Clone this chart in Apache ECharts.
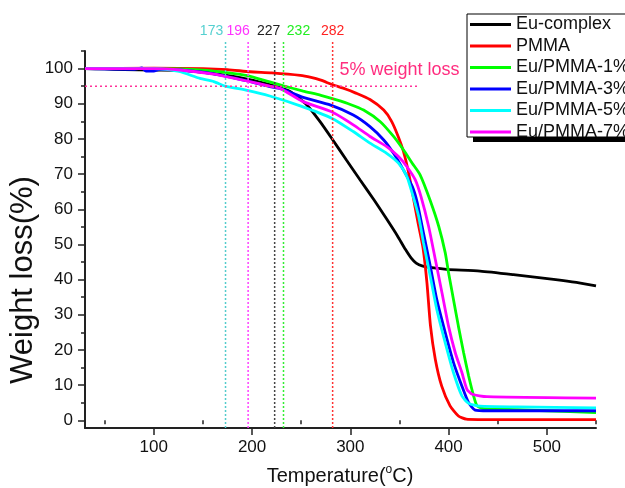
<!DOCTYPE html>
<html>
<head>
<meta charset="utf-8">
<script src="https://cdn.jsdelivr.net/npm/echarts@6/dist/echarts.min.js"></script>
<style>html,body{margin:0;padding:0;background:#fff}#c{width:625px;height:488px}</style>
</head>
<body>
<div id="c"></div>
<script>
// ---------- data ----------
const seriesNames = ['Eu-complex', 'PMMA', 'Eu/PMMA-1%', 'Eu/PMMA-3%', 'Eu/PMMA-5%', 'Eu/PMMA-7%'];
const euComplex = [[30,100],[50,99.9],[70,99.7],[100,99.6],[130,99.5],[160,98.6],[195,97],[223,95],[239,93.4],[256,89.6],[269,85],[281,80.2],[296,74],[310,68.3],[324,62.7],[337,57.2],[348,52.4],[356,48.6],[362,46.1],[367,44.7],[373,43.9],[385,43.3],[398,42.9],[432,42.4],[466,41.4],[509,40],[530,39.2],[550,38.2]];
const pmma = [[30,100],[100,100.1],[150,100],[175,99.7],[198,99.1],[220,98.8],[249,98.1],[260,97.5],[270,96.7],[282,95.4],[295,94.2],[305,93.1],[320,91.2],[334,88.2],[342,85],[349,80.5],[354,76.5],[359,70.8],[364,63.5],[369,56],[374,49],[378,39],[381.5,27],[386.5,17.3],[393,9.7],[401.5,4.1],[410,1.2],[418,0.3],[430,0.2],[550,0.2]];
const pmma1 = [[30,100],[100,100],[127,99.9],[161,99.3],[195,98],[218,96.2],[232,95.1],[252,93.6],[270,92.4],[286,91.1],[300,89.8],[313.5,88.2],[330.5,84.9],[344,80.7],[354,76.9],[363,73.1],[371,69.8],[381,62.7],[390,55.1],[396.6,47.6],[400,41.9],[405,34.3],[410,26.7],[415.3,19.2],[420.4,12.6],[425.5,6.9],[429,4.1],[436,3.3],[470,3],[500,2.7],[550,2.2]];
const pmma3 = [[30,100],[80,99.8],[88,100.2],[92,99.3],[100,99.3],[106,99.8],[127,99.6],[161,98.5],[195,96.5],[218,94.9],[229,94.3],[252,91.8],[280,89.6],[303,86.8],[320,83.5],[334,79.7],[344,75.9],[354,71.2],[363,66.5],[368,62],[374.5,53.2],[381.4,43.8],[388,34.3],[396.6,24.9],[405,16.4],[413.6,9.7],[420.4,5],[427,2.9],[440,2.7],[550,2.7]];
const pmma5 = [[30,100],[100,100],[112,99.8],[127,99.1],[147,97.2],[161,96.3],[173,95],[195,93.8],[218,92.2],[249,89.4],[281,85.9],[303,82.1],[320,78.8],[337,75.9],[349,73.1],[357.6,69.3],[363,64.5],[369.5,58],[374.5,50.4],[381.4,40.9],[388,31.5],[396.6,22],[405,13.5],[413.6,6.9],[420.4,4.8],[432,4],[470,3.8],[550,3.5]];
const pmma7 = [[30,100],[100,100],[127,99.6],[161,98.4],[196,96.4],[218,95],[229,94.3],[252,90.6],[281,87.7],[303,84],[320,80.7],[337,77.8],[349,75],[357.6,72.1],[366,68.4],[372,63.5],[379.7,55.1],[386.5,45.7],[393.3,36.2],[400,26.7],[406.8,19.2],[413.6,13.5],[418.7,8.8],[424,7.4],[439,6.7],[550,6.3]];

const xMajorTicks = [100, 200, 300, 400, 500];
const xMinorTicks = [50, 150, 250, 350, 450, 550];
const yMajorTicks = [0, 10, 20, 30, 40, 50, 60, 70, 80, 90, 100];
const yMinorTicks = [5, 15, 25, 35, 45, 55, 65, 75, 85, 95, 105];

const markTemps = [173, 196, 223, 232, 282];
const markLabels = ['173', '196', '227', '232', '282'];
const lossLevel = 95;
const lossLineEnd = 369;

// ---------- style ----------
const FONT = 'Liberation Sans, Arial, Helvetica, sans-serif';
const colors = ['#000000', '#ff0000', '#00ff00', '#0000ff', '#00ffff', '#ff00ff'];
const markColors = ['#55cccc', '#ff40ff', '#444444', '#33ee33', '#ff3333'];
const markLabelColors = ['#55d0d0', '#ff33ff', '#222222', '#22ee22', '#ff2222'];
const markLabelDx = [-14, -10, -6, 15, 0];
const pink = '#ff3399';

const chart = echarts.init(document.getElementById('c'), null, {renderer: 'canvas'});
const dataSets = [euComplex, pmma, pmma1, pmma3, pmma5, pmma7];

const axisCommon = {type: 'value', splitLine: {show: false}};

chart.setOption({
  animation: false,
  backgroundColor: '#fff',
  grid: {left: 85, right: 29, top: 51, bottom: 60, containLabel: false},
  xAxis: [
    Object.assign({}, axisCommon, {
      min: 30, max: 550, position: 'bottom',
      axisLine: {show: true, onZero: false, lineStyle: {color: '#222', width: 2}},
      axisTick: {show: true, length: 7, lineStyle: {color: '#222', width: 1.5}, customValues: xMajorTicks},
      axisLabel: {show: true, customValues: xMajorTicks, fontSize: 17, color: '#111', fontFamily: FONT, margin: 11}
    }),
    Object.assign({}, axisCommon, {
      min: 30, max: 550, position: 'bottom', gridIndex: 0,
      axisLine: {show: false},
      axisTick: {show: true, length: 4, lineStyle: {color: '#222', width: 1.5}, customValues: xMinorTicks},
      axisLabel: {show: false}
    })
  ],
  yAxis: [
    Object.assign({}, axisCommon, {
      min: -2.2, max: 105, position: 'left',
      axisLine: {show: true, onZero: false, lineStyle: {color: '#222', width: 2}},
      axisTick: {show: true, length: 7, lineStyle: {color: '#222', width: 1.5}, customValues: yMajorTicks},
      axisLabel: {show: true, customValues: yMajorTicks, fontSize: 17, color: '#111', fontFamily: FONT, margin: 12}
    }),
    Object.assign({}, axisCommon, {
      min: -2.2, max: 105, position: 'left', gridIndex: 0,
      axisLine: {show: false},
      axisTick: {show: true, length: 4, lineStyle: {color: '#222', width: 1.5}, customValues: yMinorTicks},
      axisLabel: {show: false}
    })
  ],
  legend: {
    data: seriesNames.map(n => ({name: n, icon: 'rect'})), orient: 'vertical', left: 470, top: 15.5,
    itemWidth: 41, itemHeight: 3, itemGap: 3.5, padding: 0, z: 100,
    textStyle: {fontSize: 18, color: '#111', fontFamily: FONT}
  },
  series: seriesNames.map((n, i) => ({
    name: n, type: 'line', data: dataSets[i], xAxisIndex: 0, yAxisIndex: 0,
    symbol: 'none', showSymbol: false, smooth: 0.2,
    lineStyle: {color: colors[i], width: 2.8}, itemStyle: {color: colors[i]},
    z: 2 + i
  }))
});

// annotations through the library's coordinate conversion
const g = [];
g.push({type: 'rect', z: 49, shape: {x: 473, y: 20, width: 200, height: 122}, style: {fill: '#000'}});
g.push({type: 'rect', z: 50, shape: {x: 467, y: 14, width: 200, height: 123}, style: {fill: '#fff', stroke: '#000', lineWidth: 1}});
markTemps.forEach((t, i) => {
  const p0 = chart.convertToPixel({gridIndex: 0}, [t, -2.2]);
  g.push({type: 'line', z: 10, shape: {x1: p0[0], y1: p0[1], x2: p0[0], y2: 41}, style: {stroke: markColors[i], lineWidth: 1.5, lineDash: [2, 2]}});
  g.push({type: 'text', z: 60, x: p0[0] + markLabelDx[i], y: 31, style: {text: markLabels[i], fill: markLabelColors[i], font: '14px ' + FONT, align: 'center', verticalAlign: 'middle'}});
});
const h0 = chart.convertToPixel({gridIndex: 0}, [30, lossLevel]);
const h1 = chart.convertToPixel({gridIndex: 0}, [lossLineEnd, lossLevel]);
g.push({type: 'line', z: 10, shape: {x1: h0[0], y1: h0[1], x2: h1[0], y2: h1[1]}, style: {stroke: pink, lineWidth: 1.5, lineDash: [2, 3]}});
const tp = chart.convertToPixel({gridIndex: 0}, [289, 99.6]);
g.push({type: 'text', z: 60, x: tp[0], y: tp[1], style: {text: '5% weight loss', fill: '#ff2d7f', font: '18px ' + FONT, align: 'left', verticalAlign: 'middle'}});
// axis names
g.push({type: 'text', z: 60, x: 23, y: 280, rotation: Math.PI / 2, style: {text: 'Weight loss(%)', fill: '#111', font: '31px ' + FONT, align: 'center', verticalAlign: 'middle'}});
g.push({type: 'text', z: 60, x: 340, y: 476, style: {
  text: '{a|Temperature(}{s|o}{a|C)}', align: 'center', verticalAlign: 'middle',
  rich: {a: {fontSize: 20, fontFamily: FONT, fill: '#111', lineHeight: 24}, s: {fontSize: 12, fontFamily: FONT, fill: '#111', verticalAlign: 'top', lineHeight: 24}}
}});
chart.setOption({graphic: g});
</script>
</body>
</html>
